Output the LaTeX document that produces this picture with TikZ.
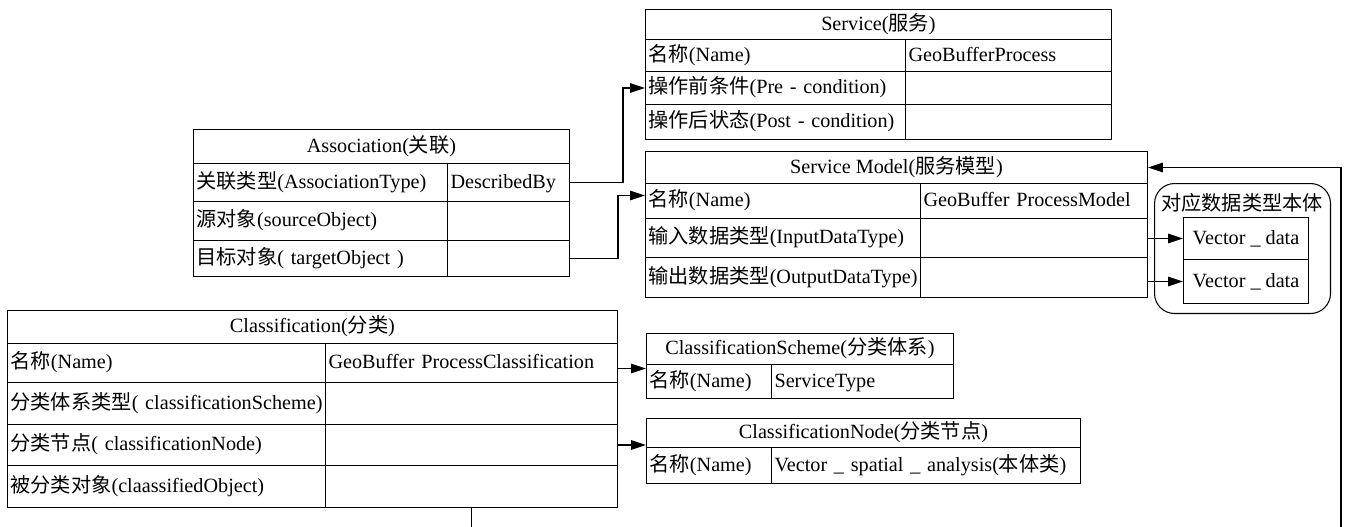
\documentclass[tikz,border=0pt]{standalone}
\usepackage{fontspec}
\setmainfont{Liberation Serif}
\newfontfamily\cjk{Noto Sans CJK SC}
\newcommand\zh[1]{{\cjk #1}}
\usepackage{tikz}
\usetikzlibrary{arrows.meta}
\hyphenpenalty=10000
\exhyphenpenalty=10000

\begin{document}
\begin{tikzpicture}[
    x=0.02cm, y=-0.02cm,
    font=\fontsize{11.5}{13.8}\selectfont,
    cellbase/.style={draw, line width=0.6pt, anchor=north west, inner xsep=0.06cm, inner ysep=0pt,
                     text height=0.3cm, text depth=0.08cm},
    tabhead/.style 2 args={cellbase, inner xsep=0pt, minimum width=#1, minimum height=#2},
    lcell/.style 2 args={cellbase, text width=#1, align=left, minimum height=#2},
    ontogroup/.style={draw, line width=0.6pt, anchor=north west, rounded corners=0.4cm,
                      minimum width=3.52cm, minimum height=2.6cm},
    flow/.style={-{Triangle[length=0.3cm,width=0.19cm]}, line width=0.8pt}
]

\useasboundingbox (0,0) rectangle (1346,527);

% Service
\node[tabhead={9.32cm}{0.6cm}] (s0) at (645,9) {Service(\zh{服务})};
\node[lcell={5.08cm}{0.64cm}] (s1l) at (645,39) {\zh{名称}(Name)};
\node[lcell={4.0cm}{0.64cm}] (s1v) at (905,39) {GeoBufferProcess};
\node[lcell={5.08cm}{0.66cm}] (s2l) at (645,71) {\zh{操作前条件}(Pre~-~condition)};
\node[lcell={4.0cm}{0.66cm}] (s2v) at (905,71) {};
\node[lcell={5.08cm}{0.70cm}] (s3l) at (645,104) {\zh{操作后状态}(Post~-~condition)};
\node[lcell={4.0cm}{0.70cm}] (s3v) at (905,104) {};

% Service Model
\node[tabhead={10.04cm}{0.64cm}] (sm0) at (645,151) {Service Model(\zh{服务模型})};
\node[lcell={5.38cm}{0.70cm}] (sm1l) at (645,183) {\zh{名称}(Name)};
\node[lcell={4.42cm}{0.70cm}] (sm1v) at (920,183) {GeoBuffer~ProcessModel};
\node[lcell={5.38cm}{0.78cm}] (sm2l) at (645,218) {\zh{输入数据类型}(InputDataType)};
\node[lcell={4.42cm}{0.78cm}] (sm2v) at (920,218) {};
\node[lcell={5.38cm}{0.80cm}] (sm3l) at (645,257) {\zh{输出数据类型}(OutputDataType)};
\node[lcell={4.42cm}{0.80cm}] (sm3v) at (920,257) {};

% data type ontology
\node[ontogroup] (onto) at (1154,183) {};
\node (ontot) at (1242,203) {\zh{对应数据类型本体}};
\node[tabhead={2.5cm}{0.84cm}] (vin) at (1183,217) {Vector \_ data};
\node[tabhead={2.5cm}{0.88cm}] (vout) at (1183,259) {Vector \_ data};

% Association
\node[tabhead={7.52cm}{0.68cm}] (a0) at (193,129) {Association(\zh{关联})};
\node[lcell={4.96cm}{0.76cm}] (a1l) at (193,163) {\zh{关联类型}(AssociationType)};
\node[lcell={2.32cm}{0.76cm}] (a1v) at (447,163) {DescribedBy};
\node[lcell={4.96cm}{0.78cm}] (a2l) at (193,201) {\zh{源对象}(sourceObject)};
\node[lcell={2.32cm}{0.78cm}] (a2v) at (447,201) {};
\node[lcell={4.96cm}{0.72cm}] (a3l) at (193,240) {\zh{目标对象}(~targetObject~)};
\node[lcell={2.32cm}{0.72cm}] (a3v) at (447,240) {};

% Classification
\node[tabhead={12.2cm}{0.66cm}] (c0) at (7,310) {Classification(\zh{分类})};
\node[lcell={6.24cm}{0.78cm}] (c1l) at (7,343) {\zh{名称}(Name)};
\node[lcell={5.72cm}{0.78cm}] (c1v) at (325,343) {GeoBuffer~ProcessClassification};
\node[lcell={6.24cm}{0.84cm}] (c2l) at (7,382) {\zh{分类体系类型}(~classificationScheme)};
\node[lcell={5.72cm}{0.84cm}] (c2v) at (325,382) {};
\node[lcell={6.24cm}{0.82cm}] (c3l) at (7,424) {\zh{分类节点}(~classificationNode)};
\node[lcell={5.72cm}{0.82cm}] (c3v) at (325,424) {};
\node[lcell={6.24cm}{0.84cm}] (c4l) at (7,465) {\zh{被分类对象}(claassifiedObject)};
\node[lcell={5.72cm}{0.84cm}] (c4v) at (325,465) {};

% ClassificationScheme, ClassificationNode
\node[tabhead={6.14cm}{0.62cm}] (cs0) at (646,333) {ClassificationScheme(\zh{分类体系})};
\node[lcell={2.38cm}{0.68cm}] (cs1l) at (646,364) {\zh{名称}(Name)};
\node[lcell={3.52cm}{0.68cm}] (cs1v) at (771,364) {ServiceType};
\node[tabhead={8.68cm}{0.58cm}] (cn0) at (646,418) {ClassificationNode(\zh{分类节点})};
\node[lcell={2.38cm}{0.72cm}] (cn1l) at (646,447) {\zh{名称}(Name)};
\node[lcell={6.06cm}{0.72cm}] (cn1v) at (771,447) {Vector~\_~spatial~\_~analysis(\zh{本体类})};

% links
\draw[flow] (a1v.east) -- ++(53,0) |- (s2l.west);
\draw[flow] (a3v.east) -- ++(48,0) |- ([yshift=0.11cm]sm1l.west);
\draw[flow] (vin.west -| sm2v.east) -- (vin.west);
\draw[flow] (vout.west -| sm3v.east) -- (vout.west);
\draw[flow] ([yshift=-0.11cm]c1v.east) -- ([yshift=-0.11cm]c1v.east -| cs1l.west);
\draw[flow] (c3v.east) -- (c3v.east -| cn1l.west);

\coordinate (back) at (1341,545);
\draw[flow] (c4v.south) -- (c4v.south |- back) -- (back) |- (sm0.east);

\end{tikzpicture}
\end{document}
